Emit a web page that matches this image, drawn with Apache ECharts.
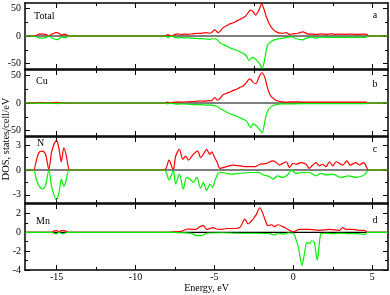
<!DOCTYPE html>
<html><head><meta charset="utf-8">
<script src="https://cdn.jsdelivr.net/npm/echarts@6/dist/echarts.min.js"></script>
<style>html,body{margin:0;padding:0;background:#fff}#c{width:390px;height:295px}</style>
</head><body><div id="c"></div>
<script>
// ---- data ----
const xTickMajor = [-15, -10, -5, 0, 5];
const xTickMinor = [-12.5, -7.5, -2.5, 2.5];
const panelNames = ['Total', 'Cu', 'N', 'Mn'];
const panelLetters = ['a', 'b', 'c', 'd'];
const yMin = [-60, -60, -4, -4];
const yMax = [60, 60, 4, 3];
const yMajor = [[-50, 0, 50], [-50, 0, 50], [-3, 0, 3], [-4, -2, 0, 2]];
const yMinor = [[-25, 25], [-25, 25], [-1.5, 1.5], [-3, -1, 1]];

const totalUp = [[-17,0],[-16.5,0],[-16.3,1],[-16.1,3.5],[-15.9,3.5],[-15.7,3],[-15.5,0.3],[-15.3,3.5],[-15.0,6],[-14.8,4],[-14.7,1.5],[-14.55,3.5],[-14.4,2.5],[-14.25,0],[-14.0,0],
 [-8.3,0],[-8.1,0.5],[-7.95,2.5],[-7.8,0.8],[-7.65,0.3],[-7.5,3],[-7.3,4],[-7.1,2.5],[-6.9,3.5],[-6.7,3],[-6.4,4],[-6.1,5],[-5.9,4.9],[-5.7,5.5],[-5.5,6],[-5.3,5],[-5.15,7],[-4.97,11],[-4.76,6],[-4.6,10],[-4.45,15],[-4.2,19],[-4.02,22],[-3.8,24],[-3.6,27],[-3.4,30],[-3.18,33],[-3.0,37],[-2.87,42],[-2.72,47],[-2.55,44],[-2.38,38],[-2.17,48],[-2.0,58],[-1.88,51],[-1.72,36],[-1.5,21],[-1.29,12],[-1.1,8],[-0.97,6],[-0.66,5],[-0.45,6],[-0.24,3],[0.0,4],[0.3,5],[0.6,7.5],[0.9,4],[1.2,3.5],[1.5,3],[1.8,4],[2.1,3],[2.4,4],[2.7,3],[3.0,3.5],[3.3,3],[3.6,3.5],[3.9,3],[4.2,3],[4.5,3.5],[4.65,3],[4.75,0],[5.0,0],[6,0]];
const totalDown = [[-17,0],[-16.5,0],[-16.3,-1],[-16.1,-3.5],[-15.9,-4],[-15.7,-3],[-15.5,-0.3],[-15.3,-3.5],[-15.0,-6.5],[-14.8,-4.5],[-14.7,-1.5],[-14.55,-3],[-14.4,-2.5],[-14.25,0],[-14.0,0],
 [-8.3,0],[-8.1,-0.5],[-7.95,-2.5],[-7.8,-0.8],[-7.65,-0.3],[-7.5,-3],[-7.3,-3.5],[-7.1,-2.5],[-6.9,-3.5],[-6.7,-3.5],[-6.4,-4],[-6.1,-4.5],[-5.9,-4.9],[-5.7,-5],[-5.5,-5.5],[-5.3,-6],[-5.15,-5],[-4.97,-5],[-4.8,-7],[-4.66,-12],[-4.4,-16],[-4.2,-19],[-3.9,-23],[-3.6,-26],[-3.3,-30],[-3.0,-35],[-2.8,-45],[-2.6,-39],[-2.4,-42],[-2.12,-51],[-1.98,-59],[-1.85,-48],[-1.72,-27],[-1.6,-15],[-1.35,-9],[-1.1,-6],[-0.87,-5],[-0.45,-3],[-0.13,-1],[0.18,-5],[0.6,-7],[0.8,-4],[1.2,-2],[1.4,-4],[1.65,-2],[2.0,-2.5],[2.5,-2.5],[3.0,-2.5],[3.5,-2.5],[4.0,-2.5],[4.5,-2.5],[4.65,-1.5],[4.75,0],[5.0,0],[6,0]];

const cuUp = [[-17,0],[-16.5,0],[-16.3,0.5],[-16.0,0.8],[-15.7,0.5],[-15.5,0.1],[-15.2,0.8],[-15.0,1],[-14.8,0.7],[-14.6,0.2],[-14.4,0],[-14.0,0],
 [-8.2,0],[-7.95,1.5],[-7.8,0.3],[-7.5,1.5],[-7.3,2],[-7.1,1.5],[-6.8,2],[-6.5,2.5],[-6.2,3],[-5.9,3.6],[-5.6,3.5],[-5.4,4.4],[-5.2,4],[-4.97,9.6],[-4.8,5],[-4.6,10],[-4.45,15],[-4.2,18],[-4.02,20],[-3.8,23],[-3.6,25],[-3.4,28],[-3.18,31],[-3.0,36],[-2.76,44],[-2.55,38],[-2.38,35],[-2.17,47],[-2.0,55],[-1.81,47],[-1.65,29],[-1.46,14],[-1.18,6.5],[-0.97,3.6],[-0.55,1.5],[-0.2,2],[0.3,2],[1.0,1.5],[2.0,1.5],[3.0,1.5],[4.0,1.5],[4.6,1.5],[4.75,0],[5.0,0],[6,0]];
const cuDown = [[-17,0],[-16.5,0],[-16.3,-0.5],[-16.0,-0.8],[-15.7,-0.5],[-15.5,-0.1],[-15.2,-0.8],[-15.0,-1],[-14.8,-0.7],[-14.6,-0.2],[-14.4,0],[-14.0,0],
 [-8.2,0],[-7.95,-1.5],[-7.8,-0.3],[-7.5,-1.5],[-7.3,-2],[-7.1,-1.5],[-6.8,-2],[-6.5,-2.5],[-6.2,-3],[-5.9,-3],[-5.5,-4],[-5.2,-4],[-4.97,-5],[-4.8,-6.5],[-4.66,-10],[-4.4,-14],[-4.2,-17],[-3.9,-21],[-3.6,-24],[-3.3,-28],[-3.0,-32],[-2.8,-41],[-2.7,-45],[-2.55,-38],[-2.4,-40],[-2.17,-47],[-1.98,-54],[-1.85,-41],[-1.72,-22],[-1.55,-11],[-1.3,-5],[-0.8,-1.5],[0.0,-1.5],[1.0,-1],[2.0,-1.2],[3.0,-1],[4.0,-1.2],[4.6,-1.2],[4.75,0],[5.0,0],[6,0]];

const nUp = [[-17,0],[-16.6,0],[-16.45,0],[-16.3,1.0],[-16.12,2.1],[-15.9,2.3],[-15.7,1.9],[-15.49,0.1],[-15.3,2.3],[-15.0,3.6],[-14.84,2.5],[-14.7,1.0],[-14.54,2.7],[-14.4,1.9],[-14.22,0.1],[-14.1,0],[-13.8,0],
 [-8.4,0],[-8.1,0.1],[-7.87,1.2],[-7.7,0.4],[-7.6,0.05],[-7.45,1.7],[-7.22,2.5],[-7.0,1.3],[-6.82,1.7],[-6.65,1.2],[-6.34,1.9],[-6.06,2.3],[-5.87,1.5],[-5.7,1.9],[-5.49,2.5],[-5.3,1.9],[-5.17,2.2],[-5.03,1.7],[-4.82,0.9],[-4.65,0.2],[-4.34,0.35],[-3.81,0.6],[-3.4,0.5],[-2.97,0.4],[-2.44,0.4],[-2.13,0.7],[-1.7,0.8],[-1.29,1.1],[-1.08,0.9],[-0.87,0.6],[-0.66,0.8],[-0.45,1.0],[-0.24,0.3],[-0.03,0.8],[0.18,0.7],[0.5,0.9],[0.81,0.7],[1.02,0.2],[1.23,0.6],[1.44,0.9],[1.65,0.5],[1.86,0.7],[2.07,0.4],[2.29,1.0],[2.5,0.5],[2.71,1.0],[2.92,0.8],[3.13,0.6],[3.4,1.1],[3.6,0.6],[3.97,0.9],[4.2,0.6],[4.43,0.9],[4.55,0.7],[4.77,0],[5.0,0],[6,0]];
const nDown = [[-17,0],[-16.6,0],[-16.45,0],[-16.3,-1.0],[-16.12,-1.9],[-15.9,-2.3],[-15.7,-1.9],[-15.49,0],[-15.3,-2.1],[-15.0,-3.65],[-14.84,-2.7],[-14.7,-1.1],[-14.54,-2.0],[-14.4,-1.3],[-14.22,0],[-14.1,0],[-13.8,0],
 [-8.4,0],[-8.1,-0.1],[-7.87,-1.2],[-7.7,-0.5],[-7.6,0],[-7.45,-1.7],[-7.22,-0.5],[-6.97,-2.3],[-6.76,-0.9],[-6.55,-1.1],[-6.34,-1.5],[-6.12,-0.9],[-5.87,-2.2],[-5.7,-1.5],[-5.49,-2.5],[-5.28,-1.7],[-5.11,-2.1],[-4.97,-1.3],[-4.76,-0.4],[-4.5,-0.3],[-4.0,-0.5],[-3.4,-0.4],[-2.8,-0.3],[-2.2,-0.3],[-1.9,-0.6],[-1.5,-0.8],[-1.29,-1.1],[-1.0,-0.7],[-0.66,-0.9],[-0.37,-0.6],[-0.13,-0.05],[0.18,-0.4],[0.6,-0.3],[1.02,-0.3],[1.44,-0.7],[1.76,-0.4],[2.07,-0.6],[2.5,-0.5],[3.0,-0.9],[3.5,-0.7],[3.97,-0.9],[4.4,-0.7],[4.55,-0.5],[4.77,0],[5.0,0],[6,0]];

const mnUp = [[-17,0],[-15.5,0],[-15.3,0],[-15.15,0.15],[-15.0,0.2],[-14.85,0.05],[-14.65,0.2],[-14.45,0.15],[-14.3,0],[-14.0,0],
 [-8.0,0],[-7.6,0.05],[-7.1,0.1],[-6.7,0.35],[-6.4,0.3],[-6.12,0.35],[-5.91,0.6],[-5.7,0.7],[-5.49,0.3],[-5.28,0.4],[-5.07,0.5],[-4.86,0.35],[-4.55,0.3],[-4.23,0.4],[-3.81,0.4],[-3.39,0.5],[-3.07,1.4],[-2.86,0.9],[-2.55,1.4],[-2.34,1.9],[-2.13,2.6],[-1.98,2.2],[-1.8,1.4],[-1.6,0.7],[-1.39,0.8],[-1.18,0.6],[-0.97,0.8],[-0.66,0.6],[-0.34,0.3],[-0.03,0.05],[0.39,0.3],[1.02,0.3],[1.65,0.2],[2.29,0.3],[2.92,0.2],[3.13,0.5],[3.34,0.3],[3.76,0.3],[4.18,0.2],[4.5,0.2],[4.7,0],[5.0,0],[6,0]];
const mnDown = [[-17,0],[-15.5,0],[-15.3,0],[-15.15,-0.12],[-15.0,-0.15],[-14.85,0],[-14.65,-0.15],[-14.45,-0.1],[-14.3,0],[-14.0,0],
 [-8.0,0],[-7.6,-0.02],[-6.5,-0.1],[-6.12,-0.35],[-5.8,-0.35],[-5.5,-0.1],[-4.5,-0.05],[-3.5,-0.1],[-2.5,-0.1],[-1.5,-0.15],[-1.18,-0.3],[-0.97,-0.1],[-0.6,-0.2],[-0.3,-0.05],[0.0,-0.1],[0.18,-0.8],[0.32,-1.6],[0.55,-3.5],[0.71,-2.2],[0.87,-1.05],[1.02,-1.2],[1.16,-0.9],[1.33,-1.1],[1.52,-2.95],[1.63,-1.5],[1.76,-0.15],[2.0,-0.1],[2.5,-0.15],[3.0,-0.1],[3.5,-0.15],[4.0,-0.15],[4.5,-0.25],[4.7,0],[5.0,0],[6,0]];

const upSeries = [totalUp, cuUp, nUp, mnUp];
const downSeries = [totalDown, cuDown, nDown, mnDown];
const zeroLine = [[-17, 0], [6, 0]];

// ---- layout ----
const FONT = 'Liberation Serif';
const gridTops = [3, 70, 137, 204];
const gridH = 66;
const labelPos = [[34, 17], [36, 82], [37, 144], [36, 222]];
const letterPos = [[375, 15], [375, 84], [375, 149], [375, 220]];

const grids = [], xAxes = [], yAxes = [], series = [], graphics = [];
for (let g = 0; g < 4; g++) {
  grids.push({ left: 25, width: 363, top: gridTops[g], height: gridH, show: false });
  const xBase = { type: 'value', gridIndex: g, min: -17, max: 6, splitLine: { show: false } };
  const isLast = g === 3;
  xAxes.push(Object.assign({}, xBase, {
    position: 'bottom',
    axisLine: { show: true, onZero: false, lineStyle: { color: '#000', width: 1.5 } },
    axisTick: { show: true, inside: true, length: 5, customValues: xTickMajor, lineStyle: { color: '#000', width: 1 } },
    axisLabel: { show: isLast, customValues: xTickMajor, color: '#000', fontFamily: FONT, fontSize: 10, margin: 2 },
    name: isLast ? 'Energy, eV' : '', nameLocation: 'middle', nameGap: 12,
    nameTextStyle: { color: '#000', fontFamily: FONT, fontSize: 10 }
  }));
  xAxes.push(Object.assign({}, xBase, {
    position: 'top',
    axisLine: { show: true, onZero: false, lineStyle: { color: '#000', width: 1.5 } },
    axisTick: { show: true, inside: true, length: 5, customValues: xTickMajor, lineStyle: { color: '#000', width: 1 } },
    axisLabel: { show: false }
  }));
  xAxes.push(Object.assign({}, xBase, {
    position: 'bottom',
    axisLine: { show: false, onZero: false },
    axisTick: { show: true, inside: true, length: 3, customValues: xTickMinor, lineStyle: { color: '#000', width: 1 } },
    axisLabel: { show: false }
  }));
  xAxes.push(Object.assign({}, xBase, {
    position: 'top',
    axisLine: { show: false, onZero: false },
    axisTick: { show: true, inside: true, length: 3, customValues: xTickMinor, lineStyle: { color: '#000', width: 1 } },
    axisLabel: { show: false }
  }));
  const yBase = { type: 'value', gridIndex: g, min: yMin[g], max: yMax[g], splitLine: { show: false } };
  yAxes.push(Object.assign({}, yBase, {
    position: 'left',
    axisLine: { show: true, onZero: false, lineStyle: { color: '#000', width: 1.5 } },
    axisTick: { show: true, inside: true, length: 5, customValues: yMajor[g], lineStyle: { color: '#000', width: 1 } },
    axisLabel: { show: true, customValues: yMajor[g], color: '#000', fontFamily: FONT, fontSize: 10, margin: 4 }
  }));
  yAxes.push(Object.assign({}, yBase, {
    position: 'right',
    axisLine: { show: true, onZero: false, lineStyle: { color: '#000', width: 1.5 } },
    axisTick: { show: true, inside: true, length: 5, customValues: yMajor[g], lineStyle: { color: '#000', width: 1 } },
    axisLabel: { show: false }
  }));
  yAxes.push(Object.assign({}, yBase, {
    position: 'left',
    axisLine: { show: false, onZero: false },
    axisTick: { show: true, inside: true, length: 3, customValues: yMinor[g], lineStyle: { color: '#000', width: 1 } },
    axisLabel: { show: false }
  }));
  yAxes.push(Object.assign({}, yBase, {
    position: 'right',
    axisLine: { show: false, onZero: false },
    axisTick: { show: true, inside: true, length: 3, customValues: yMinor[g], lineStyle: { color: '#000', width: 1 } },
    axisLabel: { show: false }
  }));
  const common = { type: 'line', xAxisIndex: 4 * g, yAxisIndex: 4 * g, showSymbol: false, symbol: 'none', silent: true };
  series.push(Object.assign({}, common, { data: zeroLine, z: 2, lineStyle: { color: '#000', width: 1.2 } }));
  series.push(Object.assign({}, common, { data: upSeries[g], z: 3, smooth: 0.3, lineStyle: { color: '#ff0000', width: 1.2 } }));
  series.push(Object.assign({}, common, { data: downSeries[g], z: 4, smooth: 0.3, lineStyle: { color: '#00f000', width: 1.2 } }));
  graphics.push({ type: 'text', left: labelPos[g][0], top: labelPos[g][1] - 6,
    style: { text: panelNames[g], font: '10px "Liberation Serif"', fill: '#000' } });
  graphics.push({ type: 'text', x: letterPos[g][0], y: letterPos[g][1],
    style: { text: panelLetters[g], font: '10px "Liberation Serif"', fill: '#000', textAlign: 'center', textVerticalAlign: 'middle' } });
}
graphics.push({ type: 'text', x: 6, y: 139, rotation: Math.PI / 2,
  style: { text: 'DOS, states/cell/eV', font: '10.5px "Liberation Serif"', fill: '#000', textAlign: 'center', textVerticalAlign: 'middle' } });

const chart = echarts.init(document.getElementById('c'), null, { renderer: 'canvas' });
chart.setOption({
  animation: false,
  backgroundColor: '#fff',
  grid: grids, xAxis: xAxes, yAxis: yAxes, series: series, graphic: graphics
});
</script></body></html>
